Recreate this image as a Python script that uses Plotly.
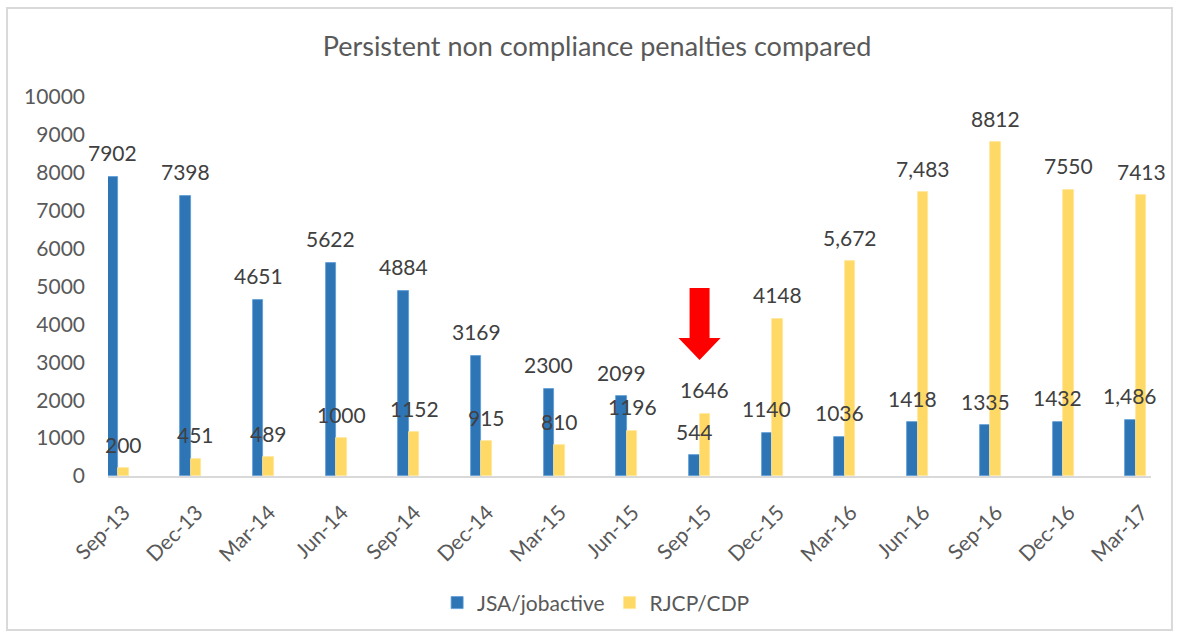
import plotly.graph_objects as go

# Quarterly persistent non compliance penalties
quarters = ["Sep-13", "Dec-13", "Mar-14", "Jun-14", "Sep-14", "Dec-14", "Mar-15",
            "Jun-15", "Sep-15", "Dec-15", "Mar-16", "Jun-16", "Sep-16", "Dec-16", "Mar-17"]
jsa_jobactive = [7902, 7398, 4651, 5622, 4884, 3169, 2300, 2099, 544, 1140, 1036, 1418, 1335, 1432, 1486]
rjcp_cdp = [200, 451, 489, 1000, 1152, 915, 810, 1196, 1646, 4148, 5672, 7483, 8812, 7550, 7413]

# labels that are shown with a thousands separator
jsa_comma = {"Mar-17"}
rjcp_comma = {"Mar-16", "Jun-16"}

y_ticks = [0, 1000, 2000, 3000, 4000, 5000, 6000, 7000, 8000, 9000, 10000]

BLUE = "#2E75B6"
YELLOW = "#FFD966"
TEXT = "#404040"
AXIS_TEXT = "#595959"
FONT = "Lato, 'Open Sans', sans-serif"

BAR_W = 0.145
idx = list(range(len(quarters)))


def label(q, v, comma_set):
    return f"{v:,}" if q in comma_set else str(v)


fig = go.Figure()
fig.add_trace(go.Bar(
    x=idx, y=jsa_jobactive, name="JSA/jobactive",
    width=BAR_W, offset=-BAR_W,
    marker=dict(color=BLUE, line=dict(color="#5B9BD5", width=0.8)),
))
fig.add_trace(go.Bar(
    x=idx, y=rjcp_cdp, name="RJCP/CDP",
    width=BAR_W, offset=0,
    marker=dict(color=YELLOW, line=dict(color="#FFE699", width=0.8)),
))

annotations = []
for i, q in enumerate(quarters):
    annotations.append(dict(
        x=i - BAR_W / 2, y=jsa_jobactive[i], xref="x", yref="y",
        text=label(q, jsa_jobactive[i], jsa_comma), showarrow=False,
        yanchor="middle", yshift=24, font=dict(family=FONT, size=21, color=TEXT),
    ))
    annotations.append(dict(
        x=i + BAR_W / 2, y=rjcp_cdp[i], xref="x", yref="y",
        text=label(q, rjcp_cdp[i], rjcp_comma), showarrow=False,
        yanchor="middle", yshift=24, font=dict(family=FONT, size=21, color=TEXT),
    ))

# block arrow pointing down at the Sep-15 cluster
ax = quarters.index("Sep-15")
shaft, head = 0.1375, 0.29
y_top, y_neck, y_tip = 4960, 3640, 3060
arrow_path = (f"M {ax - shaft},{y_top} L {ax + shaft},{y_top} L {ax + shaft},{y_neck} "
              f"L {ax + head},{y_neck} L {ax},{y_tip} L {ax - head},{y_neck} "
              f"L {ax - shaft},{y_neck} Z")

shapes = [
    dict(type="path", path=arrow_path, xref="x", yref="y",
         fillcolor="#FF0000", line=dict(color="#FF0000", width=0)),
    # outer chart frame
    dict(type="rect", xref="paper", yref="paper",
         x0=-0.0968, x1=1.0201, y0=-0.4063, y1=1.2348,
         line=dict(color="#D9D9D9", width=2), fillcolor="rgba(0,0,0,0)", layer="below"),
]

fig.update_layout(
    width=1180, height=635,
    margin=dict(l=108, r=29, t=97, b=159),
    paper_bgcolor="white", plot_bgcolor="white",
    title=dict(text="Persistent non compliance penalties compared",
               x=597 / 1180, xref="container", xanchor="center", y=1 - 47 / 635, yref="container",
               yanchor="middle",
               font=dict(family=FONT, size=27, color=AXIS_TEXT)),
    font=dict(family=FONT, color=AXIS_TEXT),
    showlegend=True,
    legend=dict(orientation="h", x=0.468, xanchor="center", y=-0.335, yanchor="middle",
                font=dict(family=FONT, size=21, color=AXIS_TEXT),
                itemwidth=30, traceorder="normal"),
    annotations=annotations,
    shapes=shapes,
    bargap=0,
)

fig.update_xaxes(
    range=[-0.1376, 14.21], tickmode="array", tickvals=idx, ticktext=quarters,
    tickangle=-45, tickfont=dict(family=FONT, size=21, color=AXIS_TEXT),
    showgrid=False, zeroline=False, showline=True, linecolor="#D9D9D9", linewidth=2,
    ticks="", ticklabelstandoff=14, ticklabelshift=6, fixedrange=True,
)
fig.update_yaxes(
    range=[0, 10000], tickmode="array", tickvals=y_ticks, ticktext=[str(v) for v in y_ticks],
    tickfont=dict(family=FONT, size=21, color=AXIS_TEXT),
    showgrid=False, zeroline=False, showline=False, ticks="",
    ticklabelstandoff=22, fixedrange=True,
)

fig.write_html("out.html")
